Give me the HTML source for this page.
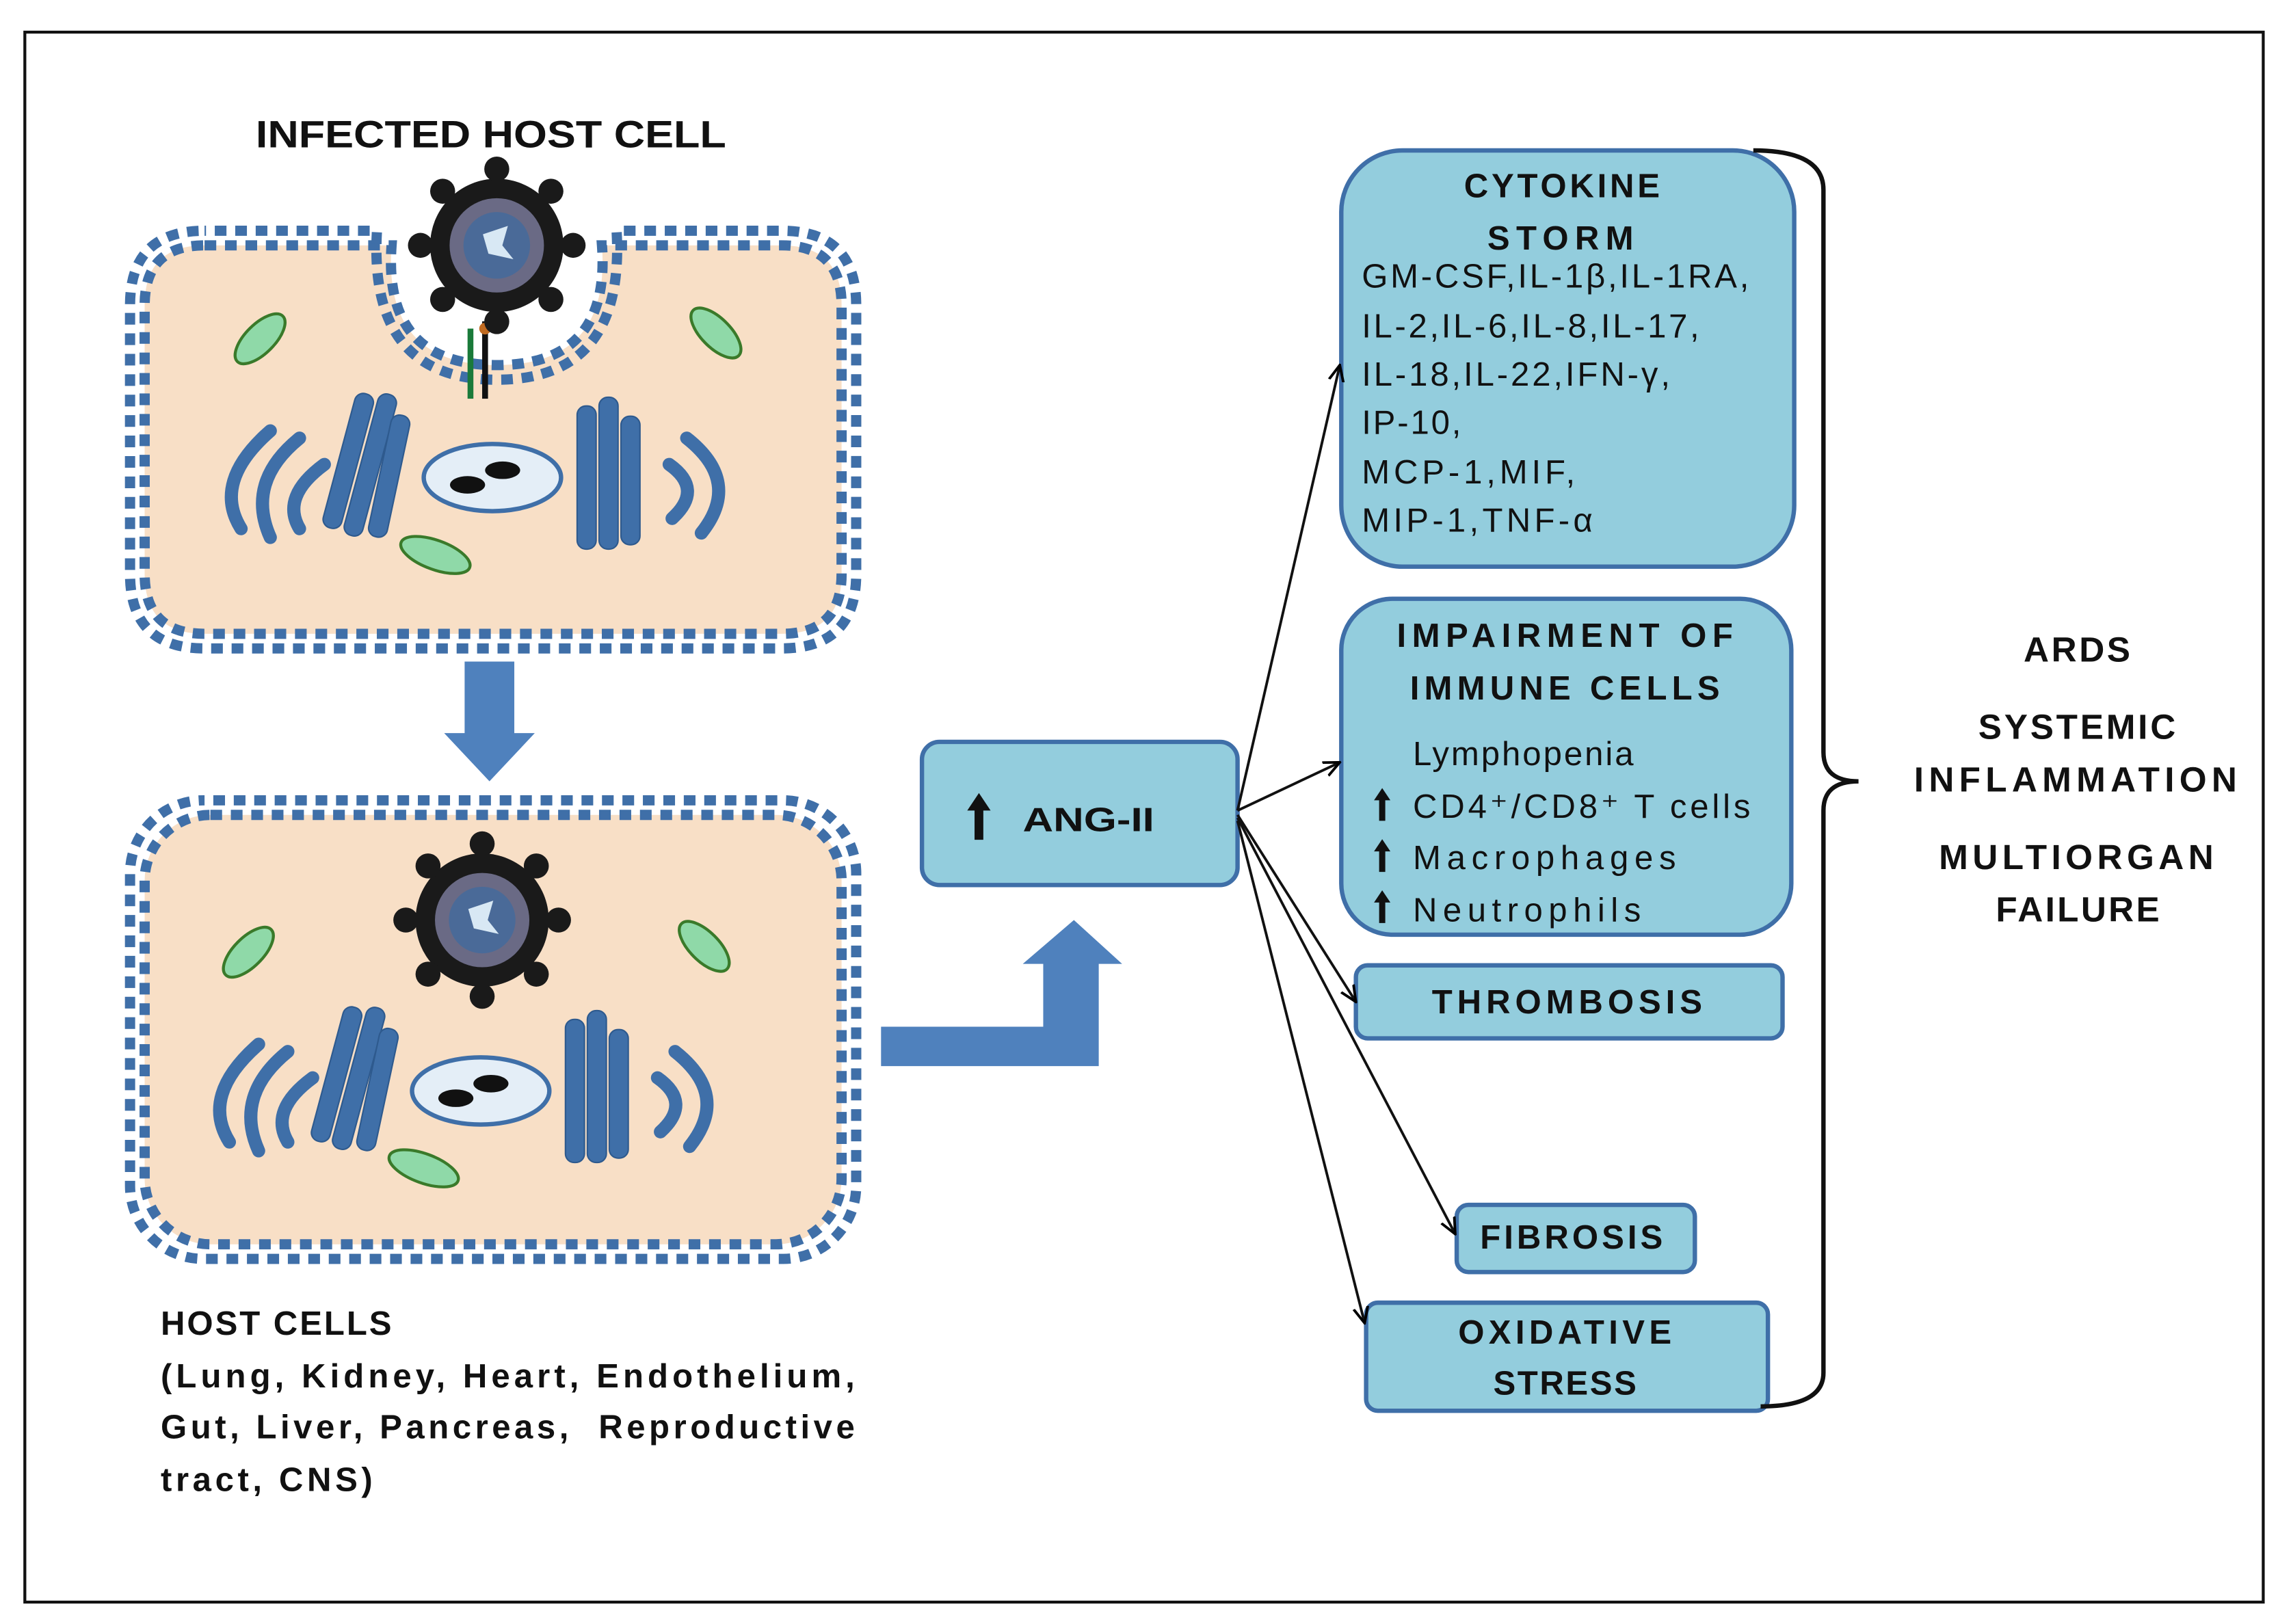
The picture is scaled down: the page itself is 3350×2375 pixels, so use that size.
<!DOCTYPE html>
<html><head><meta charset="utf-8"><style>
html,body{margin:0;padding:0;background:#fff}
svg{display:block}
text{font-family:"Liberation Sans",sans-serif}
</style></head><body>
<svg width="3350" height="2375" viewBox="0 0 1568 1112" preserveAspectRatio="none" xmlns="http://www.w3.org/2000/svg">
<defs>
<marker id="ah" markerWidth="12" markerHeight="12" refX="11" refY="6" orient="auto" markerUnits="userSpaceOnUse"><path d="M0,1 L11,6 L0,11" fill="none" stroke="#000" stroke-width="1.8"/></marker>
<g id="org">
  <g fill="#8fd9a8" stroke="#3a7a2a" stroke-width="2">
    <ellipse cx="0" cy="0" rx="22" ry="10" transform="translate(178,232) rotate(-45)"/>
    <ellipse cx="0" cy="0" rx="22" ry="10" transform="translate(490,228) rotate(45)"/>
    <ellipse cx="0" cy="0" rx="25" ry="10" transform="translate(298,380) rotate(20)"/>
  </g>
  <g fill="none" stroke="#3f6fa8" stroke-width="9" stroke-linecap="round">
    <path d="M185,295 Q145,330 165,362"/>
    <path d="M205,300 Q168,330 185,368"/>
    <path d="M222,318 Q192,340 205,362"/>
    <path d="M470,300 Q508,330 480,365"/>
    <path d="M458,318 Q482,335 460,355"/>
  </g>
  <g fill="#3f6fa8" stroke="#2e5a8e" stroke-width="1">
    <rect x="232" y="268" width="13" height="95" rx="6" transform="rotate(15 238 315)"/>
    <rect x="247" y="268" width="13" height="100" rx="6" transform="rotate(15 252 318)"/>
    <rect x="260" y="283" width="13" height="85" rx="6" transform="rotate(12 264 325)"/>
    <rect x="395" y="278" width="13" height="98" rx="6"/>
    <rect x="410" y="272" width="13" height="104" rx="6"/>
    <rect x="425" y="285" width="13" height="88" rx="6"/>
  </g>
  <ellipse cx="337" cy="327" rx="47" ry="23" fill="#e4eef7" stroke="#3f6fa8" stroke-width="3"/>
  <ellipse cx="320" cy="332" rx="12" ry="6" fill="#111"/>
  <ellipse cx="344" cy="322" rx="12" ry="6" fill="#111"/>
</g>
<g id="virus">
  <circle cx="0" cy="0" r="48" fill="#1a1a1a"/>
  <g fill="#1a1a1a">
    <circle cx="0" cy="-55" r="9"/><circle cx="0" cy="55" r="9"/><circle cx="-55" cy="0" r="9"/><circle cx="55" cy="0" r="9"/>
    <circle cx="39" cy="39" r="9"/><circle cx="-39" cy="39" r="9"/><circle cx="39" cy="-39" r="9"/><circle cx="-39" cy="-39" r="9"/>
  </g>
  <circle cx="0" cy="0" r="34" fill="#6a6a85"/>
  <circle cx="0" cy="0" r="24" fill="#4a6a98"/>
  <path d="M-10,-8 L8,-14 L4,0 L12,10 L-6,6 Z" fill="#d8e8f4"/>
</g>
<path id="up" d="M-3,0 L-3,-20 L-8,-20 L0,-32 L8,-20 L3,-20 L3,0 Z" fill="#111"/>
</defs>

<rect x="0" y="0" width="1568" height="1112" fill="#fff"/>
<rect x="17" y="22" width="1532" height="1075" fill="none" stroke="#111" stroke-width="2"/>

<text x="175" y="101" font-size="26" font-weight="bold" fill="#111" textLength="322" lengthAdjust="spacingAndGlyphs">INFECTED HOST CELL</text>

<!-- top cell -->
<path d="M140,168 L268,168 Q262,250 340,250 Q418,250 412,168 L535,168 Q576,168 576,209 L576,393 Q576,434 535,434 L140,434 Q99,434 99,393 L99,209 Q99,168 140,168 Z" fill="#f8dfc6" stroke="#3f6fa8" stroke-width="7" stroke-dasharray="8 6"/>
<path d="M140,158 L258,158 Q252,260 340,260 Q428,260 422,158 L535,158 Q586,158 586,209 L586,393 Q586,444 535,444 L140,444 Q89,444 89,393 L89,209 Q89,158 140,158 Z" fill="none" stroke="#3f6fa8" stroke-width="7" stroke-dasharray="8 6" stroke-dashoffset="7"/>
<use href="#org"/>
<rect x="320" y="225" width="4" height="48" fill="#1a7a3a"/>
<rect x="330" y="220" width="4" height="53" fill="#111"/>
<circle cx="332" cy="225" r="4" fill="#c06a20"/>
<use href="#virus" transform="translate(340,168) scale(0.95)"/>

<path d="M318,453 L352,453 L352,502 L366,502 L335,535 L304,502 L318,502 Z" fill="#4f81bd"/>

<!-- bottom cell -->
<rect x="99" y="558" width="477" height="294" rx="45" fill="#f8dfc6" stroke="#3f6fa8" stroke-width="7" stroke-dasharray="8 6"/>
<rect x="89" y="548" width="497" height="314" rx="50" fill="none" stroke="#3f6fa8" stroke-width="7" stroke-dasharray="8 6" stroke-dashoffset="7"/>
<use href="#org" transform="translate(-8,420)"/>
<use href="#virus" transform="translate(330,630) scale(0.95)"/>

<g font-size="23" font-weight="bold" fill="#111" lengthAdjust="spacingAndGlyphs">
<text x="110" y="914" textLength="158">HOST CELLS</text>
<text x="110" y="950" textLength="475">(Lung, Kidney, Heart, Endothelium,</text>
<text x="110" y="985" textLength="475">Gut, Liver, Pancreas,&#160; Reproductive</text>
<text x="110" y="1021" textLength="145">tract, CNS)</text>
</g>

<path d="M603,703 L714,703 L714,660 L700,660 L735,630 L768,660 L752,660 L752,730 L603,730 Z" fill="#4f81bd"/>

<g fill="#93cddd" stroke="#3f6fa8" stroke-width="3">
<rect x="631" y="508" width="216" height="98" rx="12"/>
<rect x="918" y="103" width="310" height="285" rx="42"/>
<rect x="918" y="410" width="308" height="230" rx="35"/>
<rect x="928" y="661" width="292" height="50" rx="8"/>
<rect x="997" y="825" width="163" height="46" rx="8"/>
<rect x="935" y="892" width="275" height="74" rx="8"/>
</g>

<use href="#up" transform="translate(670,575)"/>
<text x="700" y="569" font-size="23" font-weight="bold" fill="#111" textLength="90" lengthAdjust="spacingAndGlyphs">ANG-II</text>

<g font-size="23" font-weight="bold" fill="#111" lengthAdjust="spacingAndGlyphs">
<text x="1002" y="135" textLength="134">CYTOKINE</text>
<text x="1018" y="171" textLength="100">STORM</text>
<text x="956" y="443" textLength="230">IMPAIRMENT OF</text>
<text x="965" y="479" textLength="212">IMMUNE CELLS</text>
<text x="980" y="694" textLength="185">THROMBOSIS</text>
<text x="1013" y="855" textLength="125">FIBROSIS</text>
<text x="998" y="920" textLength="146">OXIDATIVE</text>
<text x="1022" y="955" textLength="98">STRESS</text>
</g>
<g font-size="23" fill="#111" lengthAdjust="spacingAndGlyphs">
<text x="932" y="197" textLength="265">GM-CSF,IL-1β,IL-1RA,</text>
<text x="932" y="231" textLength="231">IL-2,IL-6,IL-8,IL-17,</text>
<text x="932" y="264" textLength="211">IL-18,IL-22,IFN-γ,</text>
<text x="932" y="297" textLength="68">IP-10,</text>
<text x="932" y="331" textLength="146">MCP-1,MIF,</text>
<text x="932" y="364" textLength="158">MIP-1,TNF-α</text>
<text x="967" y="524" textLength="151">Lymphopenia</text>
<text x="967" y="560" textLength="231">CD4⁺/CD8⁺ T cells</text>
<text x="967" y="595" textLength="180">Macrophages</text>
<text x="967" y="631" textLength="156">Neutrophils</text>
</g>
<use href="#up" transform="translate(946,562) scale(0.7)"/>
<use href="#up" transform="translate(946,597) scale(0.7)"/>
<use href="#up" transform="translate(946,632) scale(0.7)"/>

<g stroke="#111" stroke-width="1.8" fill="none" marker-end="url(#ah)">
<line x1="847" y1="555" x2="917" y2="250"/>
<line x1="847" y1="555" x2="917" y2="522"/>
<line x1="847" y1="558" x2="928" y2="686"/>
<line x1="847" y1="560" x2="996" y2="845"/>
<line x1="847" y1="562" x2="934" y2="906"/>
</g>

<path d="M1200,103 Q1248,103 1248,130 L1248,515 Q1248,535 1272,535 Q1248,535 1248,555 L1248,940 Q1248,963 1205,963" fill="none" stroke="#111" stroke-width="3"/>

<g font-size="24" font-weight="bold" fill="#111" lengthAdjust="spacingAndGlyphs">
<text x="1385" y="453" textLength="73">ARDS</text>
<text x="1354" y="506" textLength="135">SYSTEMIC</text>
<text x="1310" y="542" textLength="221">INFLAMMATION</text>
<text x="1327" y="595" textLength="188">MULTIORGAN</text>
<text x="1366" y="631" textLength="112">FAILURE</text>
</g>
</svg>
</body></html>
